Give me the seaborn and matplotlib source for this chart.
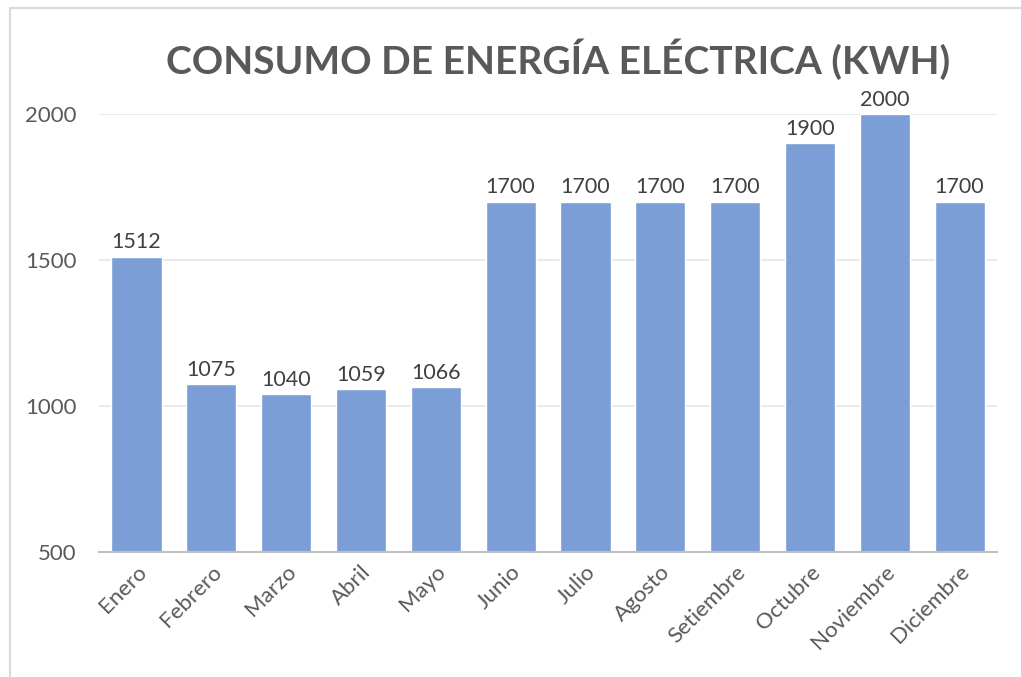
import matplotlib
matplotlib.use("Agg")
import matplotlib.pyplot as plt
import seaborn as sns
import pandas as pd
from matplotlib.lines import Line2D

months = ["Enero", "Febrero", "Marzo", "Abril", "Mayo", "Junio", "Julio",
          "Agosto", "Setiembre", "Octubre", "Noviembre", "Diciembre"]
consumo = [1512, 1075, 1040, 1059, 1066, 1700, 1700, 1700, 1700, 1900, 2000, 1700]
yticks = [500, 1000, 1500, 2000]
title = "CONSUMO DE ENERGÍA ELÉCTRICA (KWH)"

sns.set_theme(style="white")
plt.rcParams['font.family'] = ['Lato', 'DejaVu Sans']

df = pd.DataFrame({"mes": months, "kwh": consumo})

fig = plt.figure(figsize=(10.21, 6.77), dpi=100)
ax = fig.add_axes([0.097, 0.1846, 0.8795, 0.647])

sns.barplot(data=df, x="mes", y="kwh", color="#7b9ed7", saturation=1,
            width=0.67, ax=ax, zorder=3)

ax.set_ylim(500, 2000)
ax.set_yticks(yticks)
ax.set_xlim(-0.5, len(months) - 0.5)
ax.set_xlabel("")
ax.set_ylabel("")
ax.yaxis.grid(True, color="#e6e6e6", linewidth=1.2, zorder=0)
for s in ["top", "right", "left"]:
    ax.spines[s].set_visible(False)
ax.spines["bottom"].set_color("#bfbfbf")
ax.spines["bottom"].set_linewidth(1.5)
ax.spines["bottom"].set_zorder(4)
ax.tick_params(axis="y", length=0, pad=16, labelsize=16, labelcolor="#595959")
ax.tick_params(axis="x", length=0, pad=7, labelsize=16, labelcolor="#595959")
for lbl in ax.get_xticklabels():
    lbl.set_rotation(45)
    lbl.set_ha("right")
    lbl.set_va("top")
    lbl.set_rotation_mode("anchor")

for i, v in enumerate(consumo):
    ax.annotate(f"{v}", (i, v), xytext=(0, 3), textcoords="offset points",
                ha="center", va="bottom", fontsize=15.5, color="#404040",
                clip_on=False, annotation_clip=False)

fig.text(0.5465, 0.913, title, ha="center", va="center", fontsize=28,
         fontweight="bold", color="#595959")

# chart-area border (top and left edges visible in the reference)
fig.add_artist(Line2D([10 / 1021, 10 / 1021], [0, 1 - 8 / 677],
                      transform=fig.transFigure, color="#d9d9d9", linewidth=1.5))
fig.add_artist(Line2D([10 / 1021, 1], [1 - 8 / 677, 1 - 8 / 677],
                      transform=fig.transFigure, color="#d9d9d9", linewidth=1.5))

fig.savefig("out.png", dpi=100, facecolor="white")
